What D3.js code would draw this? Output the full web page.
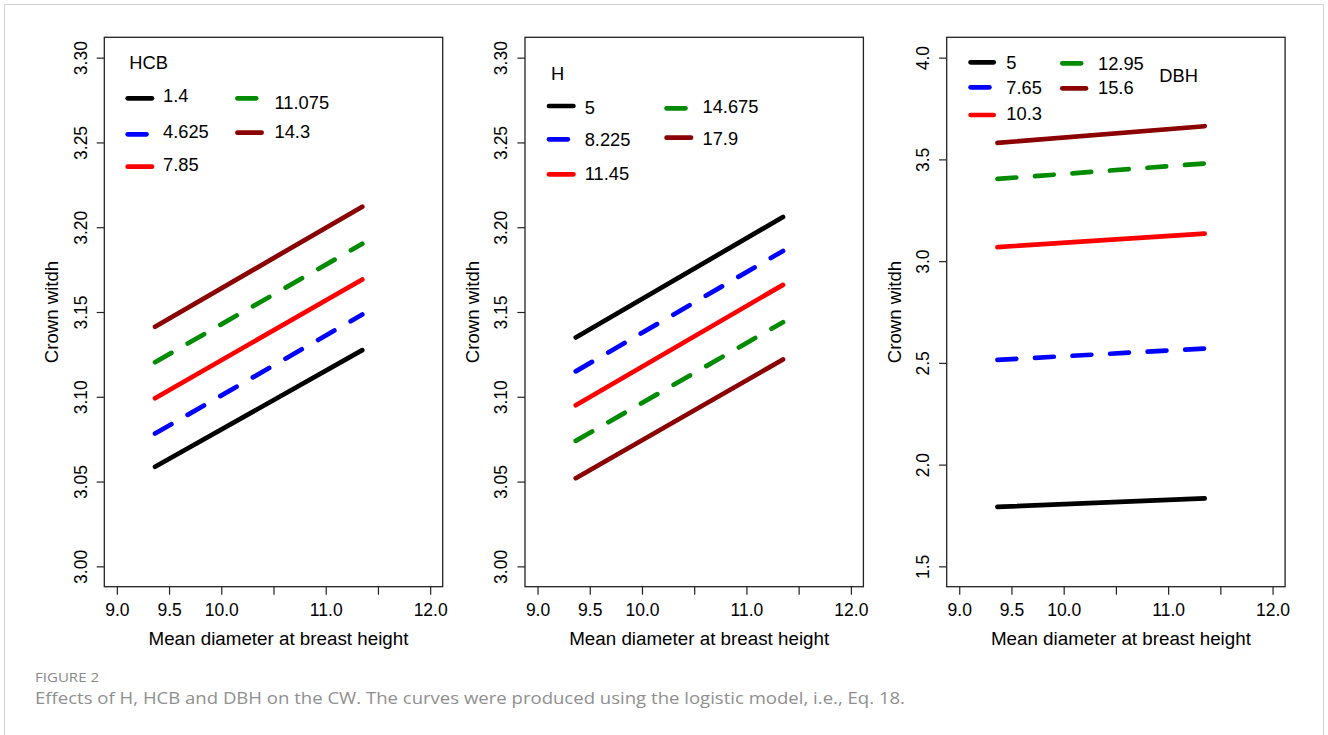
<!DOCTYPE html>
<html>
<head>
<meta charset="utf-8">
<script src="https://cdn.jsdelivr.net/npm/d3@7"></script>
<style>
  html, body { margin: 0; padding: 0; background: #fff; }
  svg { display: block; }
  text { font-family: "Liberation Sans", Arial, sans-serif; }
</style>
</head>
<body>
<svg id="fig" width="1328" height="735"></svg>
<script>
// ---- data -------------------------------------------------------------
// x extent of every effect line (mean diameter at breast height)
const xStartEnd = [9.366, 11.35];

// Panel 1: effect of HCB
const hcbLevels = ["1.4", "4.625", "7.85", "11.075", "14.3"];
const hcbStart  = [3.0587, 3.0783, 3.0991, 3.1204, 3.1413];
const hcbEnd    = [3.1275, 3.1485, 3.1692, 3.1902, 3.2121];

// Panel 2: effect of H
const hLevels = ["5", "8.225", "11.45", "14.675", "17.9"];
const hStart  = [3.135, 3.115, 3.095, 3.074, 3.052];
const hEnd    = [3.206, 3.186, 3.166, 3.144, 3.122];

// Panel 3: effect of DBH
const dbhLevels = ["5", "7.65", "10.3", "12.95", "15.6"];
const dbhStart  = [1.792, 2.515, 3.069, 3.404, 3.581];
const dbhEnd    = [1.834, 2.570, 3.135, 3.480, 3.663];

// axis ticks
const xTicks      = [9, 9.5, 10, 10.5, 11, 11.5, 12];
const xTickLabels = ["9.0", "9.5", "10.0", "", "11.0", "", "12.0"];
const yTicksA      = [3.00, 3.05, 3.10, 3.15, 3.20, 3.25, 3.30];
const yTickLabelsA = ["3.00", "3.05", "3.10", "3.15", "3.20", "3.25", "3.30"];
const yTicksB      = [1.5, 2.0, 2.5, 3.0, 3.5, 4.0];
const yTickLabelsB = ["1.5", "2.0", "2.5", "3.0", "3.5", "4.0"];

const xLabel = "Mean diameter at breast height";
const yLabel = "Crown witdh";
const figTitle = "FIGURE 2";
const figCaption = "Effects of H, HCB and DBH on the CW. The curves were produced using the logistic model, i.e., Eq. 18.";

// ---- styles -----------------------------------------------------------
const seriesColor = ["#000000", "#0000ff", "#ff0000", "#008b00", "#8b0000"];
const seriesDash  = [null, "18.8,18.8", null, "18.8,18.8", null];
const LW = 4.7;
const FONT = '"Liberation Sans", Arial, sans-serif';

// R-style 4% axis expansion
function expand(lo, hi) { const d = (hi - lo) * 0.04; return [lo - d, hi + d]; }

const panelW = 338.4, panelH = 549.4, panelTop = 37.3;

// legend layout (offsets from the panel's top-left corner)
const legendLayouts = [
  { title: "HCB", titlePos: [25, 32],
    lineX: [[23.4, 47.7], [23.4, 47.7], [23.4, 47.7], [133.1, 157.3], [133.1, 157.3]],
    lineY: [61, 97, 129.4, 61, 95.4],
    textX: [58.7, 58.7, 58.7, 170.2, 170.2],
    textY: [64.4, 100.4, 133.7, 71.4, 100.4] },
  { title: "H", titlePos: [26, 43],
    lineX: [[24, 48.4], [24, 48.4], [24, 48.4], [141.6, 166], [141.6, 166]],
    lineY: [68.7, 102, 137, 71, 100.4],
    textX: [59.7, 59.7, 59.7, 177.5, 177.5],
    textY: [76.7, 108.4, 142.7, 76, 107.7] },
  { title: "DBH", titlePos: [212.6, 44.4],
    lineX: [[23.9, 47], [23.9, 47], [23.9, 47], [115.6, 139.3], [115.6, 139.3]],
    lineY: [25, 50, 77.7, 26, 51],
    textX: [59.6, 59.6, 59.6, 151.3, 151.3],
    textY: [31.7, 57, 82.7, 32.7, 57] }
];

const panels = [
  { left: 104.3, levels: hcbLevels, start: hcbStart, end: hcbEnd,
    yDomain: [3.0, 3.3], yTicks: yTicksA, yTickLabels: yTickLabelsA },
  { left: 525.0, levels: hLevels, start: hStart, end: hEnd,
    yDomain: [3.0, 3.3], yTicks: yTicksA, yTickLabels: yTickLabelsA },
  { left: 946.7, levels: dbhLevels, start: dbhStart, end: dbhEnd,
    yDomain: [1.5, 4.0], yTicks: yTicksB, yTickLabels: yTickLabelsB }
];

const svg = d3.select("#fig");

// card frame
svg.append("path")
  .attr("d", "M4.5,745 V4.5 H1323.5 V745")
  .attr("fill", "none").attr("stroke", "#d2d2d2").attr("stroke-width", 1);

panels.forEach((p, pi) => {
  const g = svg.append("g").attr("transform", `translate(${p.left},${panelTop})`);
  const x = d3.scaleLinear().domain(expand(9, 12)).range([0, panelW]);
  const y = d3.scaleLinear().domain(expand(p.yDomain[0], p.yDomain[1])).range([panelH, 0]);

  // x axis
  const xa = g.append("g").attr("transform", `translate(0,${panelH})`)
    .call(d3.axisBottom(x).tickValues(xTicks).tickSize(8).tickPadding(0)
      .tickFormat((d, i) => xTickLabels[i]));
  xa.select(".domain").remove();
  xa.selectAll(".tick line").attr("stroke", "#222").attr("stroke-width", 1.2);
  xa.selectAll(".tick text").attr("y", 29).attr("dy", null)
    .style("font-size", "17.5px").style("font-family", FONT).style("fill", "#000");

  // y axis (labels rotated, R style)
  const ya = g.append("g")
    .call(d3.axisLeft(y).tickValues(p.yTicks).tickSize(7.6)
      .tickFormat((d, i) => p.yTickLabels[i]));
  ya.select(".domain").remove();
  ya.selectAll(".tick line").attr("stroke", "#222").attr("stroke-width", 1.2);
  ya.selectAll(".tick text")
    .attr("x", null).attr("dy", null)
    .attr("transform", "translate(-17.6,0) rotate(-90)")
    .attr("text-anchor", "middle")
    .style("font-size", "17.5px").style("font-family", FONT).style("fill", "#000");

  // axis titles
  g.append("text")
    .attr("x", panelW / 2 + 5).attr("y", panelH + 58)
    .attr("text-anchor", "middle").style("font-size", "18.8px").style("fill", "#000")
    .text(xLabel);
  g.append("text")
    .attr("transform", `translate(-46,${panelH / 2}) rotate(-90)`)
    .attr("text-anchor", "middle").style("font-size", "18.6px").style("fill", "#000")
    .text(yLabel);

  // effect lines
  const line = d3.line().x(d => x(d[0])).y(d => y(d[1]));
  p.levels.forEach((lev, i) => {
    g.append("path")
      .datum([[xStartEnd[0], p.start[i]], [xStartEnd[1], p.end[i]]])
      .attr("d", line)
      .attr("fill", "none")
      .attr("stroke", seriesColor[i])
      .attr("stroke-width", LW)
      .attr("stroke-linecap", "round")
      .attr("stroke-dasharray", seriesDash[i]);
  });

  // plot box
  g.append("rect").attr("x", 0).attr("y", 0).attr("width", panelW).attr("height", panelH)
    .attr("fill", "none").attr("stroke", "#222").attr("stroke-width", 1.3);

  // legend
  const L = legendLayouts[pi];
  const lg = g.append("g");
  lg.append("text").attr("x", L.titlePos[0]).attr("y", L.titlePos[1])
    .style("font-size", "18.3px").style("fill", "#000").text(L.title);
  p.levels.forEach((lev, i) => {
    lg.append("line")
      .attr("x1", L.lineX[i][0]).attr("x2", L.lineX[i][1])
      .attr("y1", L.lineY[i]).attr("y2", L.lineY[i])
      .attr("stroke", seriesColor[i]).attr("stroke-width", LW)
      .attr("stroke-linecap", "round")
      .attr("stroke-dasharray", seriesDash[i]);
    lg.append("text").attr("x", L.textX[i]).attr("y", L.textY[i])
      .style("font-size", "18.3px").style("fill", "#000").text(lev);
  });
});

// caption
svg.append("text").attr("x", 35).attr("y", 682)
  .style("font-family", '"Open Sans", "Noto Sans", sans-serif')
  .style("font-size", "13px").style("fill", "#8a8a8a")
  .attr("textLength", 64).attr("lengthAdjust", "spacingAndGlyphs")
  .text(figTitle);
svg.append("text").attr("x", 35).attr("y", 704)
  .style("font-family", '"Open Sans", "Noto Sans", sans-serif')
  .style("font-size", "16.5px").style("fill", "#8f8f8f")
  .attr("textLength", 870).attr("lengthAdjust", "spacingAndGlyphs")
  .text(figCaption);
</script>
</body>
</html>
